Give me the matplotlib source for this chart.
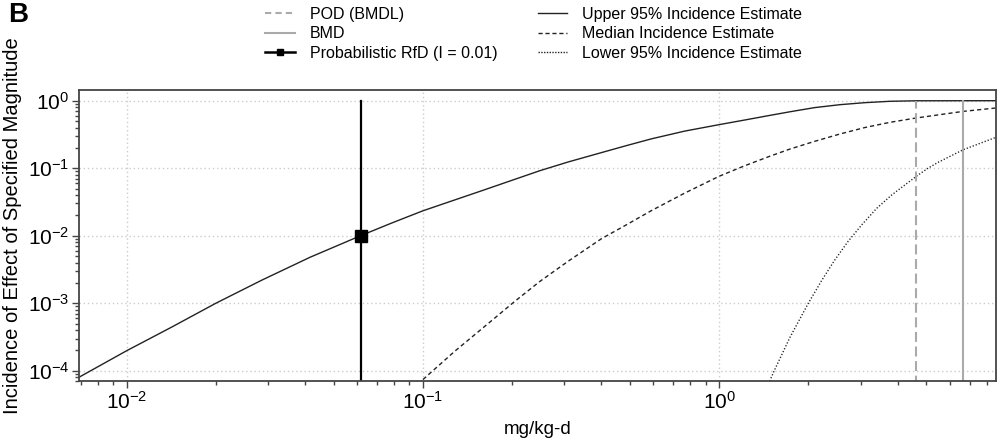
import numpy as np
import matplotlib
matplotlib.use("Agg")
import matplotlib.pyplot as plt
from matplotlib.lines import Line2D
from matplotlib.ticker import LogLocator, LogFormatterSciNotation, NullFormatter

plt.rcParams['font.family'] = ['Liberation Sans', 'DejaVu Sans']
plt.rcParams['mathtext.default'] = 'regular'

# values (dose in mg/kg-d, incidence)
upper_x = [0.0069, 0.01, 0.0142, 0.02, 0.0286, 0.0416, 0.0616, 0.0784, 0.1, 0.158,
           0.248, 0.309, 0.40, 0.487, 0.59, 0.766, 1.0, 1.221, 1.48, 1.732,
           2.1, 2.556, 3.1, 3.77, 4.63, 8.6]
upper_y = [8.0e-5, 1.98e-4, 4.44e-4, 1.0e-3, 2.2e-3, 4.8e-3, 0.01, 0.0154, 0.0234, 0.0464,
           0.0918, 0.1236, 0.170, 0.2165, 0.272, 0.355, 0.442, 0.518, 0.605, 0.685,
           0.79, 0.873, 0.935, 0.98, 0.997, 1.0]
median_x = [0.1, 0.128, 0.166, 0.2044, 0.248, 0.309, 0.40, 0.487, 0.59, 0.766,
            1.0, 1.221, 1.48, 1.732, 2.1, 2.556, 3.1, 3.77, 4.63, 5.56, 6.67, 8.6]
median_y = [7.4e-5, 1.94e-4, 5.0e-4, 1.07e-3, 2.1e-3, 4.18e-3, 9.0e-3, 0.01456, 0.0235, 0.0429,
            0.076, 0.109, 0.150, 0.192, 0.25, 0.321, 0.40, 0.478, 0.555, 0.621, 0.695, 0.78]
lower_x = [1.48, 1.534, 1.732, 2.0, 2.216, 2.45, 2.727, 3.03, 3.40, 3.82,
           4.63, 5.07, 5.48, 6.67, 8.6]
lower_y = [7.0e-5, 1.0e-4, 3.1e-4, 1.0e-3, 2.15e-3, 4.3e-3, 8.3e-3, 0.0145, 0.0254, 0.040,
           0.076, 0.1, 0.122, 0.188, 0.287]
pod = 4.63
bmd = 6.67
rfd_x = 0.0617
rfd_i = 0.01

fig = plt.figure(figsize=(10, 4.43), dpi=100)
ax = fig.add_axes([0.079, 0.1393, 0.917, 0.6582])
ax.set_xscale('log')
ax.set_yscale('log')
ax.set_xlim(0.0069, 8.6)
ax.set_ylim(6.97e-5, 1.455)

ax.grid(True, which='major', color='#cccccc', linestyle=(0, (1, 2)), linewidth=1)

ax.plot(upper_x, upper_y, color='#222222', lw=1.0)
ax.plot(median_x, median_y, color='#222222', lw=1.0, linestyle=(0, (3, 2.2)))
ax.plot(lower_x, lower_y, color='#222222', lw=1.0, linestyle=(0, (0.9, 1.4)))

ax.plot([pod, pod], [1e-6, 1.0], color='#aaaaaa', lw=1.5, linestyle=(0, (4.8, 2.2)))
ax.plot([bmd, bmd], [1e-6, 1.0], color='#aaaaaa', lw=1.5)
ax.plot([rfd_x, rfd_x], [1e-6, 1.0], color='black', lw=1.6)
ax.plot([rfd_x], [rfd_i], marker='s', color='black', markersize=9)

ax.xaxis.set_major_locator(LogLocator(base=10))
ax.xaxis.set_major_formatter(LogFormatterSciNotation())
ax.xaxis.set_minor_locator(LogLocator(base=10, subs=np.arange(2, 10)))
ax.xaxis.set_minor_formatter(NullFormatter())
ax.yaxis.set_major_locator(LogLocator(base=10))
ax.yaxis.set_major_formatter(LogFormatterSciNotation())
ax.yaxis.set_minor_locator(LogLocator(base=10, subs=np.arange(2, 10)))
ax.yaxis.set_minor_formatter(NullFormatter())

ax.tick_params(which='both', direction='out', color='#444444', width=1.0, labelsize=15)
ax.tick_params(which='major', length=5, pad=2)
ax.tick_params(which='minor', length=3)
for s in ax.spines.values():
    s.set_color('#444444')
    s.set_linewidth(1.3)

ax.set_xlabel('mg/kg-d', fontsize=13.5, labelpad=6)
ax.set_ylabel('Incidence of Effect of Specified Magnitude', fontsize=14.5)
ax.yaxis.set_label_coords(-0.062, 0.534)

handles = [
    Line2D([], [], color='#aaaaaa', lw=1.5, linestyle=(0, (3, 2))),
    Line2D([], [], color='#aaaaaa', lw=1.5),
    Line2D([], [], color='black', lw=1.8, marker='s', markersize=5),
    Line2D([], [], color='#222222', lw=1),
    Line2D([], [], color='#222222', lw=1, linestyle=(0, (3, 2))),
    Line2D([], [], color='#222222', lw=1, linestyle=(0, (1, 1))),
]
labels = ['POD (BMDL)', 'BMD', 'Probabilistic RfD (I = 0.01)',
          'Upper 95% Incidence Estimate', 'Median Incidence Estimate',
          'Lower 95% Incidence Estimate']
fig.legend(handles, labels, ncol=2, frameon=False, fontsize=11.5,
           loc='upper left', bbox_to_anchor=(0.265, 0.9842),
           borderpad=0, borderaxespad=0,
           handlelength=1.875, handletextpad=0.94, columnspacing=2.5,
           labelspacing=0.28)

fig.text(0.008, 0.995, 'B', fontsize=20, fontweight='bold', va='top', ha='left')

fig.savefig('out.png', dpi=100)
